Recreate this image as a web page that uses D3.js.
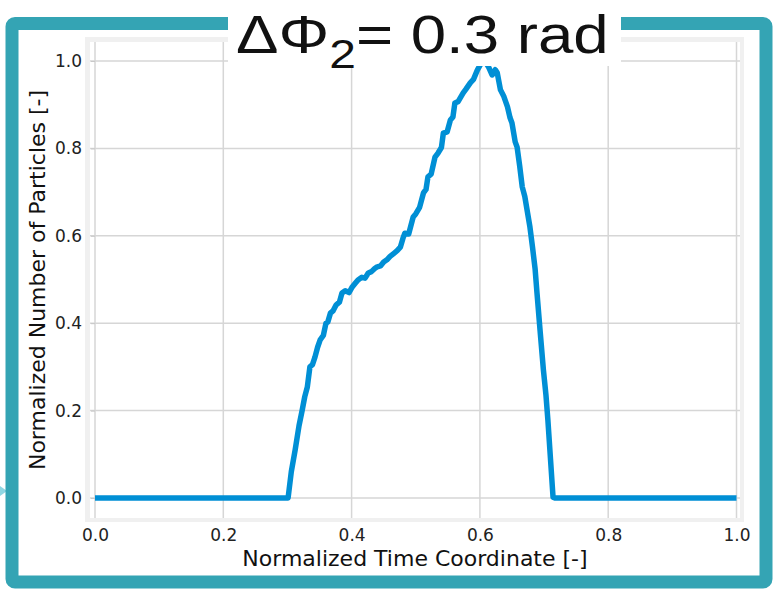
<!DOCTYPE html>
<html>
<head>
<meta charset="utf-8">
<script src="https://cdn.jsdelivr.net/npm/d3@7"></script>
<style>
html,body{margin:0;padding:0;background:#fff;}
svg{display:block;}
</style>
</head>
<body>
<svg id="chart" width="775" height="590"></svg>
<script>
// ---- data ----
const timeCoord = [0.000, 0.100, 0.200, 0.301, 0.306, 0.312, 0.318, 0.323, 0.327, 0.331, 0.335, 0.339, 0.343, 0.347, 0.351, 0.356, 0.360, 0.363, 0.367, 0.371, 0.376, 0.381, 0.385, 0.390, 0.396, 0.401, 0.406, 0.410, 0.416, 0.421, 0.426, 0.431, 0.436, 0.440, 0.445, 0.450, 0.455, 0.460, 0.466, 0.471, 0.476, 0.480, 0.483, 0.489, 0.496, 0.500, 0.506, 0.512, 0.516, 0.519, 0.524, 0.530, 0.535, 0.540, 0.543, 0.549, 0.554, 0.558, 0.561, 0.566, 0.574, 0.578, 0.585, 0.590, 0.596, 0.602, 0.608, 0.614, 0.619, 0.624, 0.627, 0.632, 0.637, 0.643, 0.647, 0.650, 0.655, 0.658, 0.662, 0.666, 0.670, 0.674, 0.678, 0.682, 0.686, 0.689, 0.694, 0.699, 0.703, 0.706, 0.710, 0.714, 0.717, 0.800, 0.900, 1.000];
const particles = [0.000, 0.000, 0.000, 0.000, 0.060, 0.110, 0.165, 0.201, 0.232, 0.254, 0.300, 0.305, 0.323, 0.345, 0.362, 0.372, 0.400, 0.403, 0.423, 0.428, 0.442, 0.448, 0.469, 0.474, 0.470, 0.483, 0.492, 0.499, 0.505, 0.503, 0.515, 0.518, 0.525, 0.529, 0.531, 0.540, 0.545, 0.553, 0.560, 0.566, 0.574, 0.594, 0.606, 0.604, 0.643, 0.650, 0.665, 0.698, 0.706, 0.735, 0.741, 0.780, 0.790, 0.802, 0.835, 0.838, 0.865, 0.872, 0.904, 0.907, 0.927, 0.935, 0.950, 0.958, 0.979, 0.995, 1.000, 0.985, 0.968, 0.980, 0.973, 0.934, 0.920, 0.895, 0.870, 0.858, 0.815, 0.803, 0.760, 0.712, 0.690, 0.655, 0.620, 0.574, 0.525, 0.469, 0.380, 0.293, 0.235, 0.178, 0.090, 0.002, 0.000, 0.000, 0.000, 0.000];
const xTicks = [0.0, 0.2, 0.4, 0.6, 0.8, 1.0];
const yTicks = [0.0, 0.2, 0.4, 0.6, 0.8, 1.0];
const xLabel = "Normalized Time Coordinate [-]";
const yLabel = "Normalized Number of Particles [-]";

// ---- drawing ----
const svg = d3.select("#chart");
const teal = "#34a4b4";
const lineColor = "#008fd5";
const gridColor = "#d6d6d6";

// left arrow tip
svg.append("path").attr("d", "M0,486 L7,491 L0,496 Z").attr("fill", "#8fd6e2");

// teal frame
svg.append("rect").attr("x", 12).attr("y", 23.5).attr("width", 754).attr("height", 558.5)
  .attr("rx", 3).attr("fill", "none").attr("stroke", teal).attr("stroke-width", 13);

// axes background
svg.append("rect").attr("x", 85).attr("y", 37).attr("width", 659).attr("height", 485).attr("fill", "#f0f0f0");
svg.append("rect").attr("x", 90).attr("y", 42).attr("width", 650).attr("height", 476).attr("fill", "#ffffff");

const x = d3.scaleLinear().domain([0, 1]).range([95, 736.5]);
const y = d3.scaleLinear().domain([0, 1]).range([498, 61]);

// grid
const g = svg.append("g");
g.selectAll("line.vg").data(xTicks).join("line").attr("class", "vg")
  .attr("x1", d => x(d)).attr("x2", d => x(d)).attr("y1", 42).attr("y2", 518)
  .attr("stroke", gridColor).attr("stroke-width", 1.5);
g.selectAll("line.hg").data(yTicks).join("line").attr("class", "hg")
  .attr("y1", d => y(d)).attr("y2", d => y(d)).attr("x1", 90).attr("x2", 740)
  .attr("stroke", gridColor).attr("stroke-width", 1.5);

// axes via d3 axis
const xAxis = d3.axisBottom(x).tickValues(xTicks).tickFormat(d3.format(".1f")).tickSize(0).tickPadding(0);
const yAxis = d3.axisLeft(y).tickValues(yTicks).tickFormat(d3.format(".1f")).tickSize(4).tickPadding(9);

const xa = svg.append("g").attr("transform", "translate(0,525)").call(xAxis);
xa.select(".domain").remove();
xa.selectAll("text").attr("font-family", "DejaVu Sans").attr("font-size", 17).attr("fill", "#222").attr("dy", "0.95em");

const ya = svg.append("g").attr("transform", "translate(95,0)").call(yAxis);
ya.select(".domain").remove();
ya.selectAll("line").attr("stroke", "#c8c8c8");
ya.selectAll("text").attr("font-family", "DejaVu Sans").attr("font-size", 17).attr("fill", "#222");

// line
const line = d3.line().x((d, i) => x(timeCoord[i])).y(d => y(d));
svg.append("path").datum(particles).attr("d", line)
  .attr("fill", "none").attr("stroke", lineColor).attr("stroke-width", 5.5)
  .attr("stroke-linejoin", "round").attr("stroke-linecap", "butt");

// axis labels
svg.append("text").attr("x", 415).attr("y", 566).attr("text-anchor", "middle")
  .attr("font-family", "DejaVu Sans").attr("font-size", 22).attr("fill", "#111").text(xLabel);
svg.append("text").attr("transform", "translate(45,280) rotate(-90)").attr("text-anchor", "middle")
  .attr("font-family", "DejaVu Sans").attr("font-size", 22).attr("fill", "#111").text(yLabel);

// title box
svg.append("rect").attr("x", 228).attr("y", 0).attr("width", 393).attr("height", 66).attr("fill", "#fff");
const t = svg.append("text").attr("transform", "translate(236,53) scale(1.2,1)")
  .attr("font-family", "Liberation Sans, Arial, sans-serif").attr("font-size", 53).attr("fill", "#111");
t.append("tspan").text("ΔΦ");
t.append("tspan").attr("font-size", 40).attr("dy", 15).text("2");
t.append("tspan").attr("dy", -15).text("= 0.3 rad");
</script>
</body>
</html>
